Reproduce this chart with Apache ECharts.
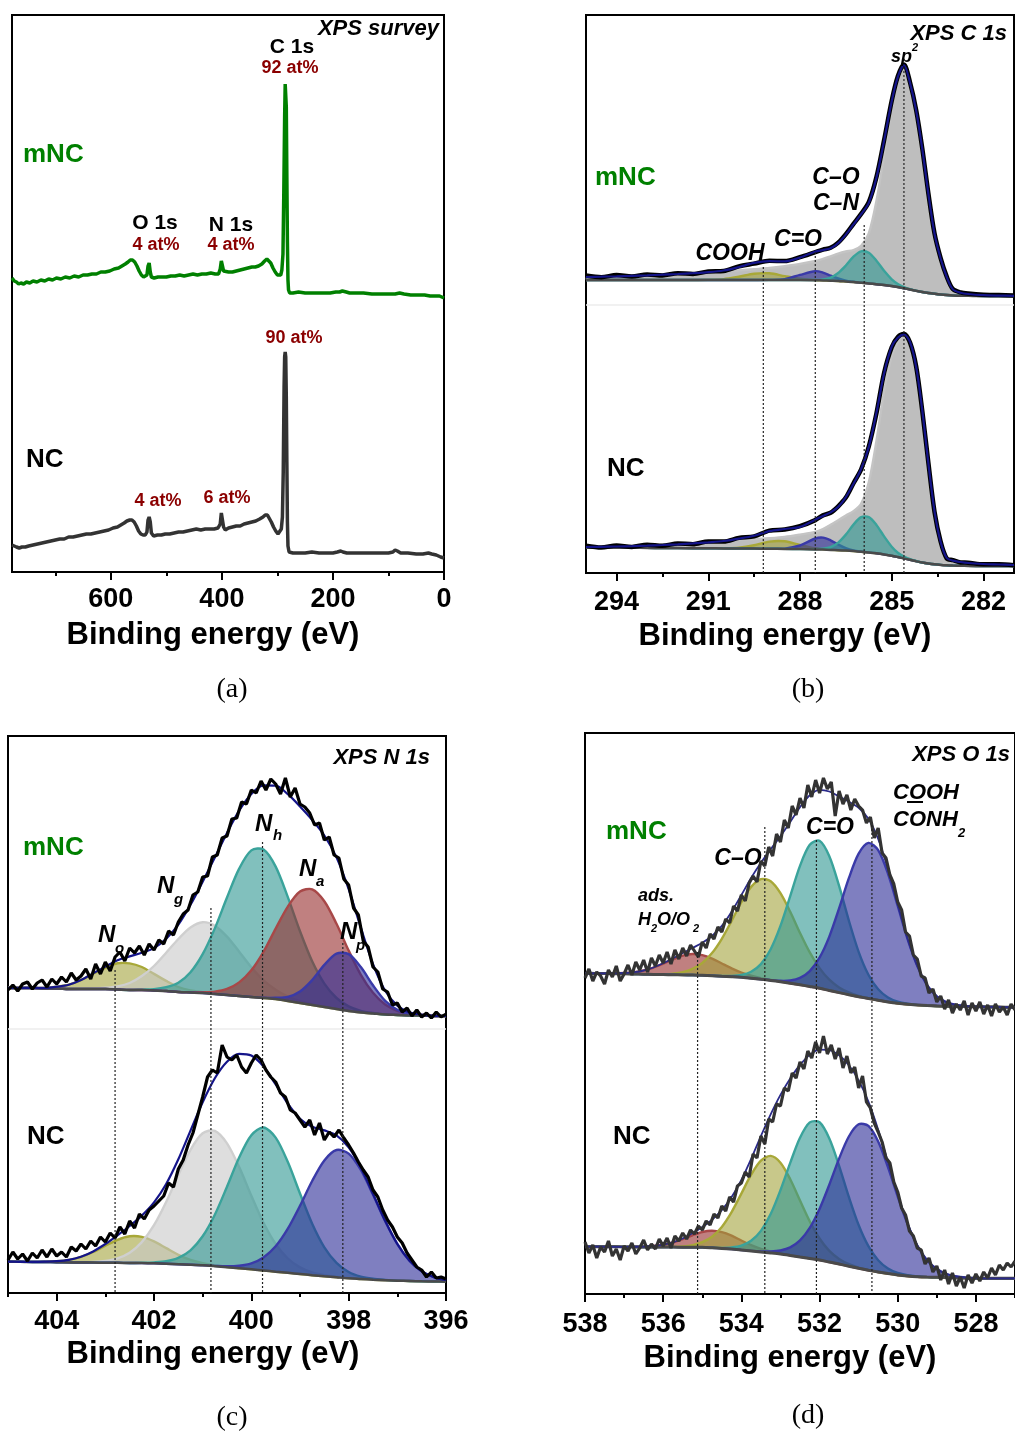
<!DOCTYPE html>
<html>
<head>
<meta charset="utf-8">
<script src="https://cdn.jsdelivr.net/npm/echarts@6/dist/echarts.min.js"></script>
<style>
html,body{margin:0;padding:0;background:#fff;}
#chart{width:1015px;height:1434px;}
</style>
</head>
<body>
<div id="chart"></div>
<script>
// ---------- (a) XPS survey: [binding energy eV, intensity a.u.] ----------
const surveyMNC = [[778,294],[774,291],[770,290],[766,288],[762,289],[757,288],[752,290],[746,289],[740,291],[733,290],[726,292],[719,291],[712,293],[705,292],[698,294],[690,293],[682,295],[674,294],[666,296],[658,295],[650,297],[642,297],[634,298],[626,298],[618,300],[610,300],[602,301],[594,303],[586,304],[580,306],[574,308],[569,310],[565,312],[561,312],[557,310],[553,306],[549,301],[545,297],[541,295],[538,294],[535,297],[533,306],[531,309],[529,300],[527,295],[522,294],[515,295],[508,295],[500,295],[492,296],[484,296],[476,297],[468,296],[460,297],[452,298],[444,297],[436,298],[428,298],[420,299],[412,298],[406,298],[403,303],[401,311],[399,310],[397,301],[394,299],[388,300],[381,300],[374,301],[367,302],[360,303],[353,304],[346,305],[340,305],[334,306],[328,308],[323,311],[319,313],[316,313],[312,309],[308,304],[304,300],[300,297],[297,295],[294,297],[292,302],[290,318],[288.5,380],[287,455],[286,488],[285,490],[284,465],[283,395],[282,330],[281,292],[280,282],[278,279],[272,279],[262,280],[250,279],[235,279],[220,279],[205,279],[195,280],[188,280],[183,281],[180,281],[176,280],[170,279],[158,279],[145,279],[130,278],[115,278],[100,278],[88,278],[80,279],[72,278],[60,277],[48,277],[35,277],[25,276],[15,276],[8,276],[0,274]];
const surveyNC = [[778,27],[774,26],[770,25],[765,24],[760,25],[754,25],[748,26],[740,27],[732,28],[724,29],[716,30],[708,31],[700,32],[692,33],[684,33],[676,35],[668,35],[660,36],[652,37],[644,38],[636,38],[628,39],[620,40],[612,41],[604,42],[596,44],[588,45],[582,47],[576,49],[571,51],[566,52],[562,52],[558,50],[554,46],[550,41],[546,38],[542,37],[538,37],[535,40],[533,52],[531,55],[529,50],[527,39],[523,36],[516,37],[509,37],[502,38],[494,38],[486,39],[478,40],[470,40],[462,41],[454,42],[446,43],[438,42],[430,43],[422,43],[414,43],[407,44],[403,48],[401,59],[399,58],[397,45],[394,42],[388,44],[381,45],[374,46],[367,46],[360,48],[353,49],[346,50],[339,51],[332,53],[326,55],[322,57],[318,57],[315,55],[311,50],[307,45],[303,41],[299,38],[296,38],[293,43],[291,55],[289.5,100],[288,185],[287,215],[286,220],[285,215],[284,175],[283,110],[282,50],[281,26],[279,20],[272,19],[262,19],[250,19],[238,20],[225,19],[212,19],[200,19],[192,20],[186,21],[182,20],[175,19],[160,19],[145,19],[130,19],[115,19],[100,19],[92,20],[88,22],[84,21],[78,19],[65,19],[50,18],[38,18],[28,19],[22,18],[14,17],[6,15],[0,14]];

// ---------- (b) C 1s ----------
const c1sEnergy = [295,294.5,294,293.5,293,292.5,292,291.5,291,290.5,290,289.5,289,288.5,288,287.5,287.25,287,286.75,286.5,286.25,286,285.75,285.5,285.25,285,284.8,284.6,284.4,284.2,284,283.8,283.6,283.4,283.2,283,282.75,282.5,282,281.5,281];
const c1sBgMNC = [293,293,293,293,293,293,293,293,293,293,293,293,293,293,293,292.8,292.6,292.3,292,291.5,291,290.3,289.6,288.8,288,287,286,284.8,283.5,282.2,281,280,279.2,278.5,278,277.6,277.3,277.2,277,277,277];
const c1sSp2MNC = [3,3.3,3.7,4.2,4.7,5.3,6,6.8,7.6,8.6,9.6,10.8,12,13.8,16,19.2,21.5,24.2,27.4,30,32,37,50,83,130,178,207,222,206,180,143,99,60,36,18,6,3,1.8,0.8,0.4,0.2];
const c1sCoohMNC = [0,0,0,0,0,0,0,0,0.2,0.9,3.3,6.3,6.7,3.9,1.3,0.2,0,0,0,0,0,0,0,0,0,0,0,0,0,0,0,0,0,0,0,0,0,0,0,0,0];
const c1sCdoMNC = [0,0,0,0,0,0,0,0,0,0,0,0,0.1,0.9,5.1,9,7.8,5.1,2.5,0.9,0.3,0.1,0,0,0,0,0,0,0,0,0,0,0,0,0,0,0,0,0,0,0];
const c1sCoMNC = [0,0,0,0,0,0,0,0,0,0,0,0,0,0,0,0.2,1,3.1,8,16,25.3,31.4,30.6,23.5,14.2,6.7,3.1,1.2,0.4,0.1,0,0,0,0,0,0,0,0,0,0,0];
const c1sRawMNC = [297.5,295.8,297.9,296.4,298.6,297.6,299.8,299.1,301.5,302,306.6,309.4,312.3,311.9,315.8,320.9,323.4,325.2,330.4,338.9,349.1,359.1,370.8,395.9,432.8,472.3,496.8,508.6,490.5,462.9,424.5,379.4,339.6,314.9,296.3,283.9,280.6,279.4,278.2,277.9,277.4];
const c1sBgNC = [25.5,25.4,25.3,25.2,25.1,25,24.9,24.8,24.7,24.6,24.5,24.4,24.3,24.1,23.9,23.6,23.4,23.1,22.8,22.4,21.9,21.3,20.6,19.7,18.6,17.3,16,14.6,13.2,11.8,10.5,9.5,8.7,8.1,7.7,7.4,7.2,7.1,7,7,7];
const c1sSp2NC = [0.5,0.8,1.2,1.7,2.3,3,3.8,4.8,6,7.3,9,9.5,10.5,12,14.5,17.5,20.5,25,30,35,40,48,70,112,163,200,215,222,217,194,152,100,53,23,7.3,5,3.8,2.9,2,1.5,1];
const c1sCoohNC = [0,0,0,0,0,0,0,0,0,0.1,0.8,3.3,7.1,7.6,4.1,1.1,0.4,0.1,0,0,0,0,0,0,0,0,0,0,0,0,0,0,0,0,0,0,0,0,0,0,0];
const c1sCdoNC = [0,0,0,0,0,0,0,0,0,0,0,0,0,0.3,3.6,10.9,12,9.6,5.7,2.5,0.8,0.2,0,0,0,0,0,0,0,0,0,0,0,0,0,0,0,0,0,0,0];
const c1sCoNC = [0,0,0,0,0,0,0,0,0,0,0,0,0,0,0,0.2,0.8,2.8,7.6,16,26.5,34.5,35.3,28.4,18,9,4.3,1.8,0.6,0.2,0,0,0,0,0,0,0,0,0,0,0];
const c1sRawNC = [27.2,25.4,27.6,26.1,28.3,27.2,29.5,28.8,31.6,31.4,35.1,36.6,42.4,43.5,46.8,52.9,57.6,60.2,66.7,75.4,89.8,103.6,126.5,159.6,200.1,225.8,235.9,238.9,230.4,206.5,162,110,61.2,31.5,14.6,12.8,10.6,10.3,8.7,8.8,7.8];
const c1sMarkers = [[289.2,306],[287.5,321],[285.9,348],[284.6,506]];

// ---------- (c) N 1s ----------
const n1sEnergy = [405,404.75,404.5,404.25,404,403.75,403.5,403.25,403,402.75,402.5,402.25,402,401.75,401.5,401.25,401,400.75,400.5,400.25,400,399.75,399.5,399.25,399,398.75,398.5,398.25,398,397.75,397.5,397.25,397,396.75,396.5,396.25,396];
const n1sBgMNC = [305,305,305,304.5,304.5,304,304,304,304,303.5,303,303,302.5,302,301,300.5,300,299,298,297,296,295,294,292,290,288,286,284,282,280.5,279.5,278.5,278,277.5,277.5,277,277];
const n1sNoMNC = [0,0,0.2,0.6,1.8,4.3,8.9,15.2,21.2,26.2,26.6,23,16.6,10.1,5,2.1,0.8,0.2,0.1,0,0,0,0,0,0,0,0,0,0,0,0,0,0,0,0,0,0];
const n1sNgMNC = [0,0,0,0,0,0,0.1,0.4,1.2,3.1,7,13.9,24.5,38.3,53,65.1,70.8,68.3,58.4,44.3,29.7,17.7,9.3,4.4,1.8,0.7,0.2,0,0,0,0,0,0,0,0,0,0];
const n1sNhMNC = [0,0,0,0,0,0,0,0,0,0,0,0.4,1.3,3.8,9.3,20.3,38.9,65.6,97.5,127.4,146.6,148.5,132.4,103.9,71.8,43.7,23.4,11,4.6,1.7,0.5,0,0,0,0,0,0];
const n1sNaMNC = [0,0,0,0,0,0,0,0,0,0,0,0,0,0,0,0.2,0.8,2.4,6.1,13.6,26.7,46.2,70.4,94.4,111.4,115.7,105.8,85.2,60.4,37.7,20.7,10,4.2,1.6,0.5,0,0];
const n1sNpMNC = [0,0,0,0,0,0,0,0,0,0,0,0,0,0,0,0,0,0,0,0,0,0.2,1.2,4.1,11.5,24.9,42.1,55.4,56.9,45.4,28.2,13.7,5.2,1.5,0.4,0,0];
const n1sBgNC = [31.3,31.2,31,31,30.8,30.6,30.5,30.4,30.3,30.2,30,29.9,29.7,29.3,28.8,28.3,27.7,26.8,25.8,24.8,23.7,22.5,21.3,20.2,19,17.8,16.7,15.7,14.7,14,13.3,12.8,12.3,12,11.7,11.5,11.3];
const n1sNoNC = [0,0,0.1,0.3,1,2.5,5.6,10.6,16.9,23,26.7,26.2,21.9,15.6,9.4,4.8,2.1,0.8,0.2,0,0,0,0,0,0,0,0,0,0,0,0,0,0,0,0,0,0];
const n1sNgNC = [0,0,0,0,0,0,0.2,0.6,1.8,4.5,10.3,21,38.1,61.7,89.2,114.9,132,135.4,123.9,101.1,73.6,47.8,27.7,14.3,6.6,2.7,1,0.3,0,0,0,0,0,0,0,0,0];
const n1sNhNC = [0,0,0,0,0,0,0,0,0,0,0,0.3,0.9,2.4,6.3,14.4,29,51.5,80.5,110.7,134.1,143,134.1,110.7,80.5,51.5,29,14.4,6.3,2.4,0.9,0.3,0,0,0,0,0];
const n1sNpNC = [0,0,0,0,0,0,0,0,0,0,0,0,0,0,0,0,0,0.3,0.9,2.5,6,13.1,25.4,44.1,68.2,94.2,115.9,127.3,124.7,109,85,59.1,36.7,20.3,10,4.4,1.7];
const n1sRawEnergy = [405,404.9,404.8,404.7,404.6,404.5,404.4,404.3,404.2,404.1,404,403.9,403.8,403.7,403.6,403.5,403.4,403.3,403.2,403.1,403,402.9,402.8,402.7,402.6,402.5,402.4,402.3,402.2,402.1,402,401.9,401.8,401.7,401.6,401.5,401.4,401.3,401.2,401.1,401,400.9,400.8,400.7,400.6,400.5,400.4,400.3,400.2,400.1,400,399.9,399.8,399.7,399.6,399.5,399.4,399.3,399.2,399.1,399,398.9,398.8,398.7,398.6,398.5,398.4,398.3,398.2,398.1,398,397.9,397.8,397.7,397.6,397.5,397.4,397.3,397.2,397.1,397,396.9,396.8,396.7,396.6,396.5,396.4,396.3,396.2,396.1,396];
const n1sRawMNC = [303,308,302,309,311,304,310,313,306,314,309,316,311,320,313,317,324,314,329,319,331,322,336,341,332,345,340,347,338,349,343,353,349,362,358,371,379,383,398,401,416,417,436,438,455,457,474,475,491,489,503,500,512,503,514,509,499,515,496,505,489,486,480,468,470,453,456,438,435,414,408,385,378,352,346,326,321,304,301,288,290,281,285,277,283,276,280,275,281,276,279];
const n1sRawNC = [33,41,34,39,32,40,35,43,36,44,37,41,36,46,42,49,44,52,47,56,51,60,55,66,59,72,65,79,74,83,87,92,97,110,106,124,133,148,160,178,196,216,223,220,248,236,233,238,226,220,230,238,233,223,216,211,200,196,183,180,173,166,173,158,170,153,161,156,163,155,148,140,131,123,116,103,96,83,73,66,56,50,40,33,26,23,16,21,15,16,14];
const n1sMarkers = [[402.8,323],[400.83,385],[399.77,451],[398.12,350]];

// ---------- (d) O 1s ----------
const o1sEnergy = [538,537.75,537.5,537.25,537,536.75,536.5,536.25,536,535.75,535.5,535.25,535,534.75,534.5,534.25,534,533.75,533.5,533.25,533,532.75,532.5,532.25,532,531.75,531.5,531.25,531,530.75,530.5,530.25,530,529.75,529.5,529.25,529,528.75,528.5,528.25,528,527.75,527.5,527.25,527];
const o1sBgMNC = [320.7,320.6,320.5,320.3,320.2,320,319.8,319.6,319.4,319.2,319.1,319,318.7,318.3,317.8,317.3,316.7,315.8,314.7,313.6,312.3,310.8,309.2,307.5,305.7,303.5,301.4,299.3,297.3,295.5,293.8,292.1,290.7,289.7,289,288.4,288,287.7,287.5,287.4,287.3,287.1,287,286.8,286.7];
const o1sAdsMNC = [0,0,0.1,0.3,0.8,1.8,3.7,6.8,10.9,15.4,19.2,21,20.2,17.1,12.7,8.4,4.8,2.5,1.1,0.4,0.2,0,0,0,0,0,0,0,0,0,0,0,0,0,0,0,0,0,0,0,0,0,0,0,0];
const o1sCoMNC = [0,0,0,0,0,0,0,0.1,0.4,1.1,2.7,6.1,12.3,22.6,37.4,55.8,75.1,91.3,100.2,99.2,88.6,71.4,51.9,34.1,20.2,10.8,5.2,2.3,0.9,0.3,0.1,0,0,0,0,0,0,0,0,0,0,0,0,0,0];
const o1sCdoMNC = [0,0,0,0,0,0,0,0,0,0,0,0,0,0,0.2,0.8,2.4,6.5,15.2,31.2,55.8,87.1,118.9,141.7,147.6,134.3,106.7,74.1,44.9,23.8,11,4.5,1.6,0.5,0.1,0,0,0,0,0,0,0,0,0,0];
const o1sCoohMNC = [0,0,0,0,0,0,0,0,0,0,0,0,0,0,0,0,0,0,0,0.3,0.9,2.7,6.9,15.4,30.6,53.9,84.2,116.5,143,155.6,150.1,128.3,97.3,65.3,38.9,20.5,9.6,4,1.5,0.5,0.1,0,0,0,0];
const o1sBgNC = [47.3,47.3,47.2,47.2,47.1,47.1,47,47,46.9,46.9,46.8,46.8,46.7,46.2,45.6,44.9,44,43.1,42.1,41.1,40,38.6,37.1,35.6,34,32,30,27.8,25.7,23.8,22,20.4,19,18,17.3,16.9,16.7,16.4,16.1,15.9,15.7,15.7,15.7,15.7,15.7];
const o1sAdsNC = [0,0,0,0,0,0.1,0.4,1,2.3,4.6,8,11.9,15.3,17,16.2,13.4,9.5,5.8,3.1,1.4,0.6,0.2,0,0,0,0,0,0,0,0,0,0,0,0,0,0,0,0,0,0,0,0,0,0,0];
const o1sCoNC = [0,0,0,0,0,0,0,0,0.1,0.2,0.7,2,5.1,11.1,21.5,37,56.4,76.2,91.3,97,91.3,76.2,56.4,37,21.5,11.1,5.1,2,0.7,0.2,0,0,0,0,0,0,0,0,0,0,0,0,0,0,0];
const o1sCdoNC = [0,0,0,0,0,0,0,0,0,0,0,0,0,0,0.5,1.6,4.3,10.1,21,38.8,63.7,92.5,119.1,136,137.7,123.5,98.2,69.3,43.3,24,11.8,5.1,2,0.7,0.2,0,0,0,0,0,0,0,0,0,0];
const o1sCoohNC = [0,0,0,0,0,0,0,0,0,0,0,0,0,0,0,0,0,0,0.5,1.4,3.5,8,16.5,30.5,51.1,77.3,105.4,129.7,144,144.3,130.5,106.5,78.4,52.1,31.2,16.9,8.3,3.6,1.4,0.5,0.2,0,0,0,0];
const o1sRawEnergy = [538,537.9,537.8,537.7,537.6,537.5,537.4,537.3,537.2,537.1,537,536.9,536.8,536.7,536.6,536.5,536.4,536.3,536.2,536.1,536,535.9,535.8,535.7,535.6,535.5,535.4,535.3,535.2,535.1,535,534.9,534.8,534.7,534.6,534.5,534.4,534.3,534.2,534.1,534,533.9,533.8,533.7,533.6,533.5,533.4,533.3,533.2,533.1,533,532.9,532.8,532.7,532.6,532.5,532.4,532.3,532.2,532.1,532,531.9,531.8,531.7,531.6,531.5,531.4,531.3,531.2,531.1,531,530.9,530.8,530.7,530.6,530.5,530.4,530.3,530.2,530.1,530,529.9,529.8,529.7,529.6,529.5,529.4,529.3,529.2,529.1,529,528.9,528.8,528.7,528.6,528.5,528.4,528.3,528.2,528.1,528,527.9,527.8,527.7,527.6,527.5,527.4,527.3,527.2,527.1,527];
const o1sRawMNC = [316,325,313,322,318,310,324,317,328,313,320,329,319,332,324,334,322,336,328,339,331,342,330,344,335,346,338,349,343,337,352,346,360,355,367,362,375,371,388,383,399,393,411,418,412,433,428,447,438,460,452,474,466,488,479,496,486,509,497,514,501,516,505,512,478,503,490,499,484,495,488,484,471,477,456,466,441,436,419,410,392,384,362,358,339,335,318,316,301,305,292,298,285,294,281,290,284,293,279,291,283,292,280,289,278,290,282,287,279,290,284];
const o1sRawNC = [52,41,49,36,47,42,53,38,45,34,48,43,51,40,46,54,44,50,45,55,48,56,46,58,53,61,55,64,60,68,64,73,69,80,76,88,83,97,92,108,111,122,117,140,136,158,150,175,172,190,188,206,203,221,216,232,225,243,236,252,241,258,240,249,235,246,226,238,221,227,206,218,192,186,171,162,152,136,131,112,102,86,79,63,58,46,44,30,36,22,28,14,24,10,21,8,17,6,19,11,20,13,22,16,26,19,29,24,31,27,33];
const o1sMarkers = [[535.12,342],[533.4,467],[532.08,454],[530.66,469]];

// ---------- axis ticks ----------
const majorTicks = [[0,200,400,600],[282,285,288,291,294],[396,398,400,402,404],[528,530,532,534,536,538]];
const minorTicks = [[100,300,500,700],[283.5,286.5,289.5,292.5],[397,399,401,403,405],[527,529,531,533,535,537]];
const xRanges = [[0,778],[281,295],[396,405],[527,538]];
const yMax = [557,558,557,561];

// ---------- styling ----------
const SANS = "'Liberation Sans', Arial, Helvetica, sans-serif";
const SERIF = "'Liberation Serif', 'DejaVu Serif', serif";
const COL = {
  sp2:  ['rgba(147,147,147,0.6)', '#c4c4c4'],
  teal: ['rgba(45,150,145,0.6)', '#3aa39b'],
  navy: ['rgba(42,42,150,0.6)', '#3a3aa8'],
  olive:['rgba(163,163,60,0.6)', '#a8a838'],
  red:  ['rgba(150,43,43,0.6)', '#a84848'],
  gray: ['rgba(200,200,200,0.6)', '#cfcfcf']
};

const zip = (xs, ys) => xs.map((x, i) => [x, ys[i]]);
const envelope = (bg, comps) => bg.map((b, i) => comps.reduce((s, c) => s + c[i], b));

// filled fit component between the background and background + component
function band(ax, xs, base, h, col, z) {
  return {
    type: 'custom', xAxisIndex: ax, yAxisIndex: ax, z: z, silent: true, animation: false,
    data: [[xs[0], base[0]]],
    renderItem: function (params, api) {
      const top = xs.map((x, i) => api.coord([x, base[i] + h[i]]));
      const bot = xs.map((x, i) => api.coord([x, base[i]])).reverse();
      return { type: 'group', children: [
        { type: 'polygon', shape: { points: top.concat(bot), smooth: 0.3 }, style: { fill: col[0] } },
        { type: 'polyline', shape: { points: top, smooth: 0.3 }, style: { stroke: col[1], lineWidth: 2.4, fill: null } }
      ]};
    }
  };
}
function line(ax, data, color, width, z, smooth, dash) {
  return {
    type: 'line', xAxisIndex: ax, yAxisIndex: ax, data: data, z: z, silent: true,
    showSymbol: false, symbol: 'none', smooth: smooth || false, animation: false,
    lineStyle: { color: color, width: width, type: dash || 'solid' }
  };
}
function markerLines(ax, marks) {
  return marks.map(m => line(ax, [[m[0], m[1]], [m[0], 0]], '#222', 1.2, 7, false, [2, 2]));
}

const series = [];
// (a)
series.push(line(0, surveyMNC, '#008000', 3.5, 5));
series.push(line(0, surveyNC, '#333333', 3.5, 5));
// (b)
series.push(line(1, [[295, 268], [281, 268]], '#ececec', 1.5, 1));
[[c1sBgMNC, c1sSp2MNC, c1sCoohMNC, c1sCdoMNC, c1sCoMNC, c1sRawMNC],
 [c1sBgNC, c1sSp2NC, c1sCoohNC, c1sCdoNC, c1sCoNC, c1sRawNC]].forEach(s => {
  series.push(band(1, c1sEnergy, s[0], s[1], COL.sp2, 2));
  series.push(band(1, c1sEnergy, s[0], s[2], COL.olive, 2));
  series.push(band(1, c1sEnergy, s[0], s[3], COL.navy, 2));
  series.push(band(1, c1sEnergy, s[0], s[4], COL.teal, 2));
  series.push(line(1, zip(c1sEnergy, s[0]), '#4a4a4a', 2.5, 3, 0.3));
  series.push(line(1, zip(c1sEnergy, s[5]), '#000000', 4.5, 4, 0.3));
  series.push(line(1, zip(c1sEnergy, envelope(s[0], [s[1], s[2], s[3], s[4]])), '#14148a', 2.2, 5, 0.3));
});
series.push(...markerLines(1, c1sMarkers));
// (c)
series.push(line(2, [[405, 264], [396, 264]], '#ececec', 1.5, 1));
[[n1sBgMNC, [n1sNoMNC, n1sNgMNC, n1sNhMNC, n1sNaMNC, n1sNpMNC], [COL.olive, COL.gray, COL.teal, COL.red, COL.navy], n1sRawMNC],
 [n1sBgNC, [n1sNoNC, n1sNgNC, n1sNhNC, n1sNpNC], [COL.olive, COL.gray, COL.teal, COL.navy], n1sRawNC]].forEach(s => {
  s[1].forEach((c, k) => series.push(band(2, n1sEnergy, s[0], c, s[2][k], 2)));
  series.push(line(2, zip(n1sEnergy, s[0]), '#4a4a4a', 2.5, 3, 0.3));
  series.push(line(2, zip(n1sEnergy, envelope(s[0], s[1])), '#14148a', 2.2, 4, 0.3));
  series.push(line(2, zip(n1sRawEnergy, s[3]), '#000000', 3.2, 5));
});
series.push(...markerLines(2, n1sMarkers));
// (d)
[[o1sBgMNC, [o1sAdsMNC, o1sCoMNC, o1sCdoMNC, o1sCoohMNC], o1sRawMNC],
 [o1sBgNC, [o1sAdsNC, o1sCoNC, o1sCdoNC, o1sCoohNC], o1sRawNC]].forEach(s => {
  const cols = [COL.red, COL.olive, COL.teal, COL.navy];
  s[1].forEach((c, k) => series.push(band(3, o1sEnergy, s[0], c, cols[k], 2)));
  series.push(line(3, zip(o1sEnergy, s[0]), '#4a4a4a', 3, 3, 0.3));
  series.push(line(3, zip(o1sEnergy, envelope(s[0], s[1])), '#2a2a8a', 1.8, 4, 0.3));
  series.push(line(3, zip(o1sRawEnergy, s[2]), '#333333', 3.2, 5));
});
series.push(...markerLines(3, o1sMarkers));

// ---------- axes ----------
const grids = [
  { left: 12, top: 15, width: 432, height: 557 },
  { left: 586, top: 15, width: 428, height: 558 },
  { left: 8, top: 736, width: 438, height: 557 },
  { left: 585, top: 733, width: 441, height: 561 }
].map(g => Object.assign(g, { show: true, borderColor: '#000', borderWidth: 2, backgroundColor: 'rgba(0,0,0,0)', containLabel: false }));

const labelMargin = [14, 16, 15, 17];
const xAxes = [];
for (let i = 0; i < 4; i++) {
  xAxes.push({
    type: 'value', gridIndex: i, position: 'bottom', inverse: true,
    min: xRanges[i][0], max: xRanges[i][1],
    axisLine: { show: true, onZero: false, lineStyle: { color: '#000', width: 2 } },
    axisTick: { show: true, inside: false, length: 8, customValues: majorTicks[i], lineStyle: { color: '#000', width: 2 } },
    axisLabel: { show: true, customValues: majorTicks[i], margin: labelMargin[i], color: '#000', fontSize: 27, fontWeight: 'bold', fontFamily: SANS },
    splitLine: { show: false }
  });
}
for (let i = 0; i < 4; i++) {
  xAxes.push({
    type: 'value', gridIndex: i, position: 'bottom', inverse: true,
    min: xRanges[i][0], max: xRanges[i][1],
    axisLine: { show: false, onZero: false },
    axisTick: { show: true, inside: false, length: 4, customValues: minorTicks[i], lineStyle: { color: '#000', width: 2 } },
    axisLabel: { show: false },
    splitLine: { show: false }
  });
}
const yAxes = yMax.map((m, i) => ({ type: 'value', gridIndex: i, min: 0, max: m, show: false, splitLine: { show: false } }));

// ---------- text ----------
function txt(x, y, text, size, o) {
  o = o || {};
  const align = o.align || 'left';
  return {
    type: 'text', x: x, y: y, z: 100, silent: true,
    style: {
      text: text,
      font: (o.italic ? 'italic ' : '') + (o.normal ? 'normal ' : 'bold ') + size + 'px ' + (o.family || SANS),
      fill: o.color || '#000',
      align: align, verticalAlign: 'middle',
      textAlign: align, textVerticalAlign: 'middle'
    }
  };
}
const RED = '#8b0000', GREEN = '#008000';
const graphics = [
  // (a)
  txt(439, 29, 'XPS survey', 22, { italic: true, align: 'right' }),
  txt(292, 47, 'C 1s', 21, { align: 'center' }),
  txt(290, 68, '92 at%', 18, { align: 'center', color: RED }),
  txt(23, 155, 'mNC', 26, { color: GREEN }),
  txt(155, 223, 'O 1s', 21, { align: 'center' }),
  txt(156, 245, '4 at%', 18, { align: 'center', color: RED }),
  txt(231, 225, 'N 1s', 21, { align: 'center' }),
  txt(231, 245, '4 at%', 18, { align: 'center', color: RED }),
  txt(294, 338, '90 at%', 18, { align: 'center', color: RED }),
  txt(26, 460, 'NC', 26),
  txt(158, 501, '4 at%', 18, { align: 'center', color: RED }),
  txt(227, 498, '6 at%', 18, { align: 'center', color: RED }),
  txt(213, 635, 'Binding energy (eV)', 31, { align: 'center' }),
  txt(232, 690, '(a)', 28, { align: 'center', normal: true, family: SERIF }),
  // (b)
  txt(1007, 34, 'XPS C 1s', 22, { italic: true, align: 'right' }),
  txt(891, 57, 'sp', 18, { italic: true }),
  txt(912, 48, '2', 11, { italic: true }),
  txt(595, 178, 'mNC', 26, { color: GREEN }),
  txt(836, 178, 'C\u2013O', 23, { italic: true, align: 'center' }),
  txt(836, 204, 'C\u2013N', 23, { italic: true, align: 'center' }),
  txt(798, 240, 'C=O', 23, { italic: true, align: 'center' }),
  txt(730, 254, 'COOH', 23, { italic: true, align: 'center' }),
  txt(607, 469, 'NC', 26),
  txt(785, 636, 'Binding energy (eV)', 31, { align: 'center' }),
  txt(808, 690, '(b)', 28, { align: 'center', normal: true, family: SERIF }),
  // (c)
  txt(430, 758, 'XPS N 1s', 22, { italic: true, align: 'right' }),
  txt(23, 848, 'mNC', 26, { color: GREEN }),
  txt(255, 824, 'N', 24, { italic: true }), txt(273, 836, 'h', 15, { italic: true }),
  txt(299, 869, 'N', 24, { italic: true }), txt(316, 882, 'a', 15, { italic: true }),
  txt(157, 886, 'N', 24, { italic: true }), txt(174, 900, 'g', 15, { italic: true }),
  txt(98, 935, 'N', 24, { italic: true }), txt(115, 949, 'o', 15, { italic: true }),
  txt(340, 932, 'N', 24, { italic: true }), txt(356, 946, 'p', 15, { italic: true }),
  txt(27, 1137, 'NC', 26),
  txt(213, 1354, 'Binding energy (eV)', 31, { align: 'center' }),
  txt(232, 1418, '(c)', 28, { align: 'center', normal: true, family: SERIF }),
  // (d)
  txt(1010, 755, 'XPS O 1s', 22, { italic: true, align: 'right' }),
  txt(606, 832, 'mNC', 26, { color: GREEN }),
  txt(893, 793, 'COOH', 22, { italic: true }),
  { type: 'line', z: 100, silent: true, shape: { x1: 907, y1: 802, x2: 923, y2: 802 }, style: { stroke: '#000', lineWidth: 2 } },
  txt(893, 820, 'CONH', 22, { italic: true }), txt(958, 833, '2', 13, { italic: true }),
  txt(830, 828, 'C=O', 23, { italic: true, align: 'center' }),
  txt(738, 859, 'C\u2013O', 23, { italic: true, align: 'center' }),
  txt(638, 896, 'ads.', 18, { italic: true }),
  txt(638, 920, 'H', 18, { italic: true }), txt(651, 929, '2', 11, { italic: true }),
  txt(657, 920, 'O/O', 18, { italic: true }), txt(693, 929, '2', 11, { italic: true }),
  txt(613, 1137, 'NC', 26),
  txt(790, 1358, 'Binding energy (eV)', 31, { align: 'center' }),
  txt(808, 1416, '(d)', 28, { align: 'center', normal: true, family: SERIF })
];

const chart = echarts.init(document.getElementById('chart'), null, { renderer: 'canvas' });
chart.setOption({
  animation: false,
  backgroundColor: '#fff',
  textStyle: { fontFamily: SANS },
  grid: grids,
  xAxis: xAxes,
  yAxis: yAxes,
  series: series,
  graphic: graphics
});
</script>
</body>
</html>
